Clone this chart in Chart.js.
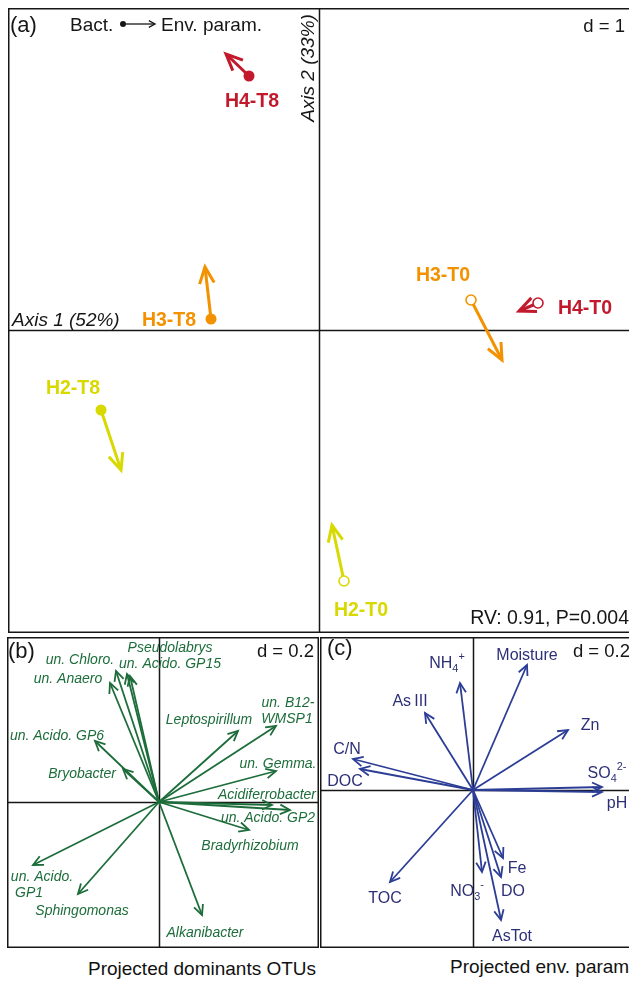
<!DOCTYPE html>
<html><head><meta charset="utf-8">
<script src="https://cdn.jsdelivr.net/npm/chart.js@4.4.1/dist/chart.umd.min.js"></script>
<style>
html,body{margin:0;padding:0;background:#fff;}
body{width:629px;height:981px;overflow:hidden;position:relative;font-family:"Liberation Sans",Arial,Helvetica,sans-serif;}
.box{position:absolute;}
.box canvas{display:block;}
.cap{position:absolute;font-size:19px;line-height:22px;color:#111;white-space:nowrap;}
</style></head><body>
<div class="box" style="left:8px;top:8px;width:625px;height:625px"><canvas id="ca"></canvas></div>
<div class="box" style="left:7px;top:637px;width:312px;height:311px"><canvas id="cb"></canvas></div>
<div class="box" style="left:320px;top:637px;width:315px;height:311px"><canvas id="cc"></canvas></div>
<div class="cap" style="left:88px;top:958px;">Projected dominants OTUs</div>
<div class="cap" style="left:450px;top:956px;">Projected env. param</div>
<script>
// ================= DATA =================
// Panel (a): co-inertia, bacterial (circle) vs environmental (arrow tip) sample scores
const samples   = ['H2-T0','H3-T0','H4-T0','H2-T8','H3-T8','H4-T8'];
const bactAxis1 = [0.25, 1.52, 2.19, -2.18, -1.08, -0.70];
const bactAxis2 = [-2.51, 0.30, 0.27, -0.80, 0.11, 2.54];
const envAxis1  = [0.13, 1.83, 2.00, -1.98, -1.14, -0.93];
const envAxis2  = [-1.95, -0.30, 0.19, -1.40, 0.63, 2.76];

// Panel (b): projected dominant OTUs
const otuNames = ['un. Chloro.','Pseudolabrys','un. Acido. GP15','un. Anaero','un. Acido. GP6','Bryobacter',
  'Leptospirillum','un. B12-\nWMSP1','un. Gemma.','Acidiferrobacter','un. Acido. GP2','Bradyrhizobium',
  'Alkanibacter','un. Acido.\nGP1','Sphingomonas'];
const otuAxis1 = [-0.086,-0.058,-0.064,-0.098,-0.128,-0.072,0.158,0.234,0.234,0.226,0.262,0.180,0.086,-0.252,-0.162];
const otuAxis2 = [0.262,0.252,0.256,0.238,0.122,0.066,0.142,0.152,0.062,-0.006,-0.016,-0.056,-0.226,-0.126,-0.184];

// Panel (c): projected environmental parameters
const envNames = ['NH{_4}{^+}','As\u2009III','Moisture','Zn','C/N','DOC','SO{_4}{^2-}','pH','TOC','NO{_3}{^-}','Fe','DO','AsTot'];
const envParAxis1 = [-0.026,-0.096,0.108,0.190,-0.240,-0.226,0.258,0.258,-0.166,0.018,0.060,0.056,0.056];
const envParAxis2 = [0.214,0.154,0.250,0.120,0.062,0.042,0.006,-0.004,-0.184,-0.164,-0.136,-0.174,-0.260];

// Panel texts
const panelTags = ['(a)','(b)','(c)'];
const gridSizes = ['d = 1','d = 0.2','d = 0.2'];
const axisTitles = ['Axis 1 (52%)','Axis 2 (33%)'];
const rvText = 'RV: 0.91, P=0.004';
const legendTexts = ['Bact.','Env. param.'];

// ================= LAYOUT / STYLE =================
const FONT = '"Liberation Sans", Arial, Helvetica, sans-serif';
const siteColors = {H2:'#d8d900', H3:'#f39200', H4:'#c2192c'};
const GREEN = '#1d6d3b', BLUE = '#2c3d96', NAVY = '#2d3077', INK = '#161616';
const sampleLabelOffset = [[17,28],[-28,-26],[47,4],[-28,-23],[-42,0],[3,24]];
const otuLabelOffset = [
  [[-36,-12]],[[40,-29]],[[43,-11]],[[-42,-5]],[[-38,-6]],[[-41,4]],[[-29,-12]],
  [[12,-24],[11,-8]],[[2,-8]],[[-5,-11]],[[-22,7]],[[1,15]],[[3,17]],
  [[9,11],[-4,27]],[[4,16]]];
const envLabelOffset = [[-13,-21],[-15,-13],[0,-11],[22,-6],[-6,-11],[-15,11],[5,-15],[15,10],[-5,15],[-15,18],[14,9],[12,13],[11,15]];

// ================= HELPERS =================
function head(ctx,x0,y0,x1,y1,len,ang,color,lw){
  const a = Math.atan2(y1-y0,x1-x0);
  ctx.save();
  ctx.strokeStyle=color; ctx.lineWidth=lw; ctx.lineJoin='miter'; ctx.lineCap='butt';
  ctx.beginPath();
  ctx.moveTo(x1-len*Math.cos(a-ang), y1-len*Math.sin(a-ang));
  ctx.lineTo(x1,y1);
  ctx.lineTo(x1-len*Math.cos(a+ang), y1-len*Math.sin(a+ang));
  ctx.stroke();
  ctx.restore();
}
function parseRich(str){
  const re=/\{([_^])([^}]*)\}|([^{]+)/g; const out=[]; let m;
  while((m=re.exec(str))){ if(m[3]) out.push({t:m[3],m:''}); else out.push({t:m[2],m:m[1]}); }
  return out;
}
function rich(ctx,str,cx,cy,size,opts){
  opts=opts||{};
  const style=opts.style||'normal', weight=opts.weight||'normal', align=opts.align||'center';
  const parts=parseRich(str);
  let w=0;
  parts.forEach(p=>{
    const s = p.m? size*0.68 : size;
    ctx.font = `${style} ${weight} ${s}px ${FONT}`;
    p.s=s; p.w=ctx.measureText(p.t).width; w+=p.w;
  });
  let x = align==='center'? cx-w/2 : align==='right'? cx-w : cx;
  const base = cy + 0.36*size;
  ctx.save(); ctx.fillStyle=opts.color||INK; ctx.textBaseline='alphabetic'; ctx.textAlign='left';
  parts.forEach(p=>{
    ctx.font = `${style} ${weight} ${p.s}px ${FONT}`;
    const by = p.m==='_'? base+0.28*size : p.m==='^'? base-0.48*size : base;
    ctx.fillText(p.t,x,by); x+=p.w;
  });
  ctx.restore();
}
function frame(chart){
  const {ctx, chartArea:ca, scales:{x,y}} = chart;
  ctx.save();
  ctx.strokeStyle=INK; ctx.lineWidth=1.5;
  ctx.strokeRect(ca.left+0.75, ca.top+0.75, ca.right-ca.left-1.5, ca.bottom-ca.top-1.5);
  const px=Math.round(x.getPixelForValue(0))+0.5, py=Math.round(y.getPixelForValue(0))+0.5;
  ctx.beginPath();
  ctx.moveTo(px,ca.top); ctx.lineTo(px,ca.bottom);
  ctx.moveTo(ca.left,py); ctx.lineTo(ca.right,py);
  ctx.stroke();
  ctx.restore();
}
function options(xmin,xmax,ymin,ymax){
  return {
    responsive:true, maintainAspectRatio:false, animation:false, events:[],
    layout:{padding:0, autoPadding:false},
    plugins:{legend:{display:false}, tooltip:{enabled:false}},
    scales:{
      x:{type:'linear',min:xmin,max:xmax,display:false},
      y:{type:'linear',min:ymin,max:ymax,display:false}
    }
  };
}

// ================= PANEL (a) =================
const dsA = samples.map((s,i)=>{
  const col = siteColors[s.slice(0,2)];
  const filled = s.endsWith('T8');
  return {
    data:[{x:bactAxis1[i],y:bactAxis2[i]},{x:envAxis1[i],y:envAxis2[i]}],
    showLine:true, borderColor:col, borderWidth:3, tension:0,
    pointRadius:[filled?5.5:5,0], pointBorderWidth:[filled?0:1.6,0],
    pointBackgroundColor:[filled?col:'#ffffff',col], pointBorderColor:col, clip:false
  };
});
new Chart(document.getElementById('ca'),{
  type:'scatter', data:{datasets:dsA}, options:options(-3.11,3.14,-3.03,3.22),
  plugins:[{id:'bipA',
    beforeDatasetsDraw(chart){ frame(chart); },
    afterDatasetsDraw(chart){
      const {ctx, chartArea:ca, scales:{x,y}} = chart;
      samples.forEach((s,i)=>{
        const col = siteColors[s.slice(0,2)];
        const x0=x.getPixelForValue(bactAxis1[i]), y0=y.getPixelForValue(bactAxis2[i]);
        const x1=x.getPixelForValue(envAxis1[i]), y1=y.getPixelForValue(envAxis2[i]);
        head(ctx,x0,y0,x1,y1,18,0.42,col,3);
        rich(ctx,s,x0+sampleLabelOffset[i][0],y0+sampleLabelOffset[i][1],19.5,{weight:'bold',color:col});
      });
      const L=ca.left, T=ca.top;
      rich(ctx,panelTags[0],L+2,T+16,22,{align:'left'});
      rich(ctx,legendTexts[0],L+62,T+16,19,{align:'left'});
      ctx.save(); ctx.fillStyle=INK; ctx.beginPath(); ctx.arc(L+115,T+16,3,0,Math.PI*2); ctx.fill();
      ctx.strokeStyle=INK; ctx.lineWidth=1.3; ctx.beginPath(); ctx.moveTo(L+115,T+16); ctx.lineTo(L+147,T+16); ctx.stroke(); ctx.restore();
      head(ctx,L+115,T+16,L+147,T+16,7,0.5,INK,1.3);
      rich(ctx,legendTexts[1],L+153,T+16,19,{align:'left'});
      rich(ctx,gridSizes[0],L+617,T+17,18.5,{align:'right'});
      rich(ctx,axisTitles[0],L+4,T+311,19,{align:'left',style:'italic'});
      ctx.save(); ctx.translate(L+299,T+60); ctx.rotate(-Math.PI/2);
      rich(ctx,axisTitles[1],0,0,19,{style:'italic'}); ctx.restore();
      rich(ctx,rvText,L+621,T+609,19.5,{align:'right'});
    }
  }]
});

// ================= PANEL (b) =================
const dsB = otuNames.map((n,i)=>({
  data:[{x:0,y:0},{x:otuAxis1[i],y:otuAxis2[i]}],
  showLine:true, borderColor:GREEN, borderWidth:1.8, pointRadius:0, tension:0
}));
new Chart(document.getElementById('cb'),{
  type:'scatter', data:{datasets:dsB}, options:options(-0.304,0.32,-0.292,0.33),
  plugins:[{id:'bipB',
    beforeDatasetsDraw(chart){ frame(chart); },
    afterDatasetsDraw(chart){
      const {ctx, chartArea:ca, scales:{x,y}} = chart;
      const ox=x.getPixelForValue(0), oy=y.getPixelForValue(0);
      otuNames.forEach((n,i)=>{
        const x1=x.getPixelForValue(otuAxis1[i]), y1=y.getPixelForValue(otuAxis2[i]);
        head(ctx,ox,oy,x1,y1,11,0.45,GREEN,1.8);
        n.split('\n').forEach((ln,k)=>{
          const o=otuLabelOffset[i][k];
          rich(ctx,ln,x1+o[0],y1+o[1],14,{style:'italic',color:GREEN});
        });
      });
      rich(ctx,panelTags[1],ca.left+1,ca.top+13,22,{align:'left'});
      rich(ctx,gridSizes[1],ca.left+307,ca.top+13,18.5,{align:'right'});
    }
  }]
});

// ================= PANEL (c) =================
const dsC = envNames.map((n,i)=>({
  data:[{x:0,y:0},{x:envParAxis1[i],y:envParAxis2[i]}],
  showLine:true, borderColor:BLUE, borderWidth:1.8, pointRadius:0, tension:0
}));
new Chart(document.getElementById('cc'),{
  type:'scatter', data:{datasets:dsC}, options:options(-0.306,0.324,-0.316,0.306),
  plugins:[{id:'bipC',
    beforeDatasetsDraw(chart){ frame(chart); },
    afterDatasetsDraw(chart){
      const {ctx, chartArea:ca, scales:{x,y}} = chart;
      const ox=x.getPixelForValue(0), oy=y.getPixelForValue(0);
      envNames.forEach((n,i)=>{
        const x1=x.getPixelForValue(envParAxis1[i]), y1=y.getPixelForValue(envParAxis2[i]);
        head(ctx,ox,oy,x1,y1,11,0.45,BLUE,1.8);
        const o=envLabelOffset[i];
        rich(ctx,n,x1+o[0],y1+o[1],16,{color:NAVY});
      });
      rich(ctx,panelTags[2],ca.left+7,ca.top+10,22,{align:'left'});
      rich(ctx,gridSizes[2],ca.left+310,ca.top+13,18.5,{align:'right'});
    }
  }]
});
</script>
</body></html>
